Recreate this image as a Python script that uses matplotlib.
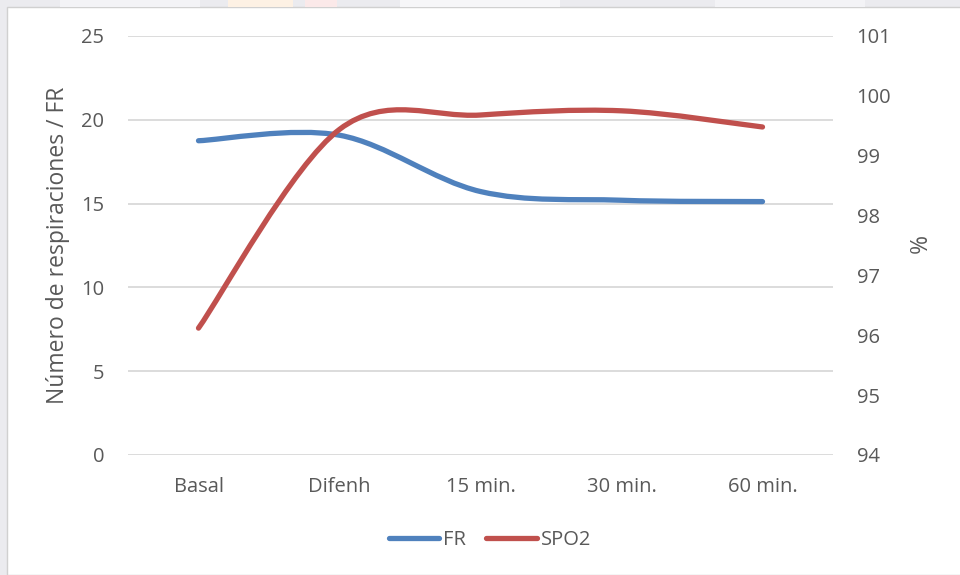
import matplotlib.pyplot as plt
import numpy as np
from matplotlib.path import Path
from matplotlib.patches import PathPatch, Rectangle
from matplotlib.lines import Line2D

plt.rcParams['font.family'] = ['Open Sans', 'DejaVu Sans']

categorias = ['Basal', 'Difenh', '15 min.', '30 min.', '60 min.']
fr = [18.75, 19.08, 15.72, 15.2, 15.12]
spo2 = [96.12, 99.44, 99.68, 99.75, 99.48]

azul = '#4f81bd'
rojo = '#c0504d'
gris_texto = '#595959'
gris_rejilla = '#d9d9d9'


def curva_suave(ax, xs, ys, color):
    # curva de Bezier tipo Catmull-Rom que pasa por cada punto
    pts = np.column_stack([xs, ys]).astype(float)
    n = len(pts)
    verts = [pts[0]]
    codes = [Path.MOVETO]
    for i in range(n - 1):
        p0 = pts[max(i - 1, 0)]
        p1 = pts[i]
        p2 = pts[i + 1]
        p3 = pts[min(i + 2, n - 1)]
        c1 = p1 + (p2 - p0) / 6
        c2 = p2 - (p3 - p1) / 6
        verts += [c1, c2, p2]
        codes += [Path.CURVE4] * 3
    patch = PathPatch(Path(verts, codes), facecolor='none', edgecolor=color,
                      lw=3.8, capstyle='round', joinstyle='round', zorder=3)
    ax.add_patch(patch)


fig = plt.figure(figsize=(9.6, 5.75), dpi=100)
fig.patch.set_facecolor('#ebebef')

# recuadro blanco del grafico
fig.patches.append(Rectangle((7 / 960, 0), 1, 1 - 7 / 575, transform=fig.transFigure,
                             facecolor='white', edgecolor='#d0d0d0', lw=1, zorder=-5))
# franja superior del fondo
for x0, w, c in [(60, 140, '#f3f3f6'), (228, 65, '#fdf1e4'), (305, 32, '#fbe9e9'),
                 (400, 160, '#f6f6f8'), (715, 150, '#f3f3f6')]:
    fig.patches.append(Rectangle((x0 / 960, 1 - 7 / 575), w / 960, 7 / 575,
                                 transform=fig.transFigure, facecolor=c, lw=0, zorder=-5))

ax = fig.add_axes([128 / 960, 1 - 455 / 575, 705 / 960, 419 / 575])
ax.set_facecolor('none')
x = np.arange(len(categorias))

ax.set_xlim(-0.5, len(categorias) - 0.5)
ax.set_ylim(0, 25)
ax.set_yticks([0, 5, 10, 15, 20, 25])
ax.set_xticks(x)
ax.set_xticklabels(categorias)
ax.grid(axis='y', color=gris_rejilla, lw=1.3)
ax.set_axisbelow(True)
for s in ax.spines.values():
    s.set_visible(False)
ax.tick_params(axis='both', length=0, labelsize=14.5, colors=gris_texto)
ax.tick_params(axis='y', pad=17)
ax.tick_params(axis='x', pad=16)
ax.set_ylabel('Número de respiraciones / FR', fontsize=16.5, color=gris_texto, labelpad=8)

ax2 = ax.twinx()
ax2.set_ylim(94, 101)
ax2.set_yticks(range(94, 102))
for s in ax2.spines.values():
    s.set_visible(False)
ax2.tick_params(axis='y', length=0, labelsize=14.5, colors=gris_texto, pad=17)
ax2.set_ylabel('%', fontsize=16.5, color=gris_texto, rotation=270, labelpad=25)

curva_suave(ax, x, fr, azul)
curva_suave(ax2, x, spo2, rojo)

handles = [Line2D([], [], color=azul, lw=3.8, solid_capstyle='round'),
           Line2D([], [], color=rojo, lw=3.8, solid_capstyle='round')]
fig.legend(handles, ['FR', 'SPO2'], loc='center', bbox_to_anchor=(490 / 960, 1 - 540 / 575),
           ncol=2, frameon=False, fontsize=14.5, labelcolor=gris_texto,
           handlelength=2.5, handletextpad=0.2, columnspacing=1.0)

plt.savefig('out.png', dpi=100, facecolor=fig.get_facecolor())
